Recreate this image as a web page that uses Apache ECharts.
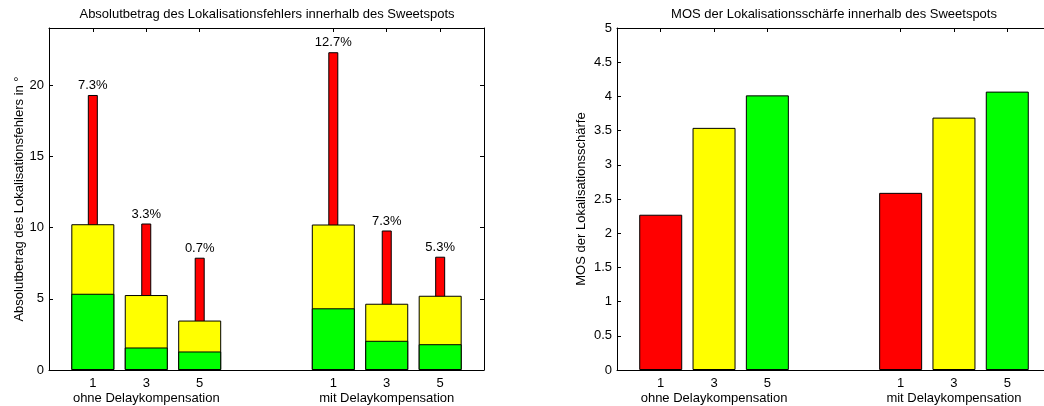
<!DOCTYPE html>
<html>
<head>
<meta charset="utf-8">
<script src="https://cdn.jsdelivr.net/npm/echarts@6/dist/echarts.min.js"></script>
<style>
  html, body { margin: 0; padding: 0; background: #fff; overflow: hidden; }
  /* right panel runs past the window edge, as in the original */
  #chart { width: 1060px; height: 406px; }
</style>
</head>
<body>
<div id="chart"></div>
<script>
// x positions of the bars (two groups of three)
const positions = [1, 2, 3, 5.5, 6.5, 7.5];
const tickLabels = ['1', '3', '5', '1', '3', '5'];
const groupPos = [2, 6.5];
const groupNames = ['ohne Delaykompensation', 'mit Delaykompensation'];

// left: Lokalisationsfehler (upper edge of each segment)
const greenTop = [5.35, 1.58, 1.30, 4.33, 2.05, 1.81];
const yellowTop = [10.23, 5.26, 3.47, 10.21, 4.65, 5.21];
const redTop = [19.3, 10.28, 7.88, 22.3, 9.79, 7.95];
const redPct = ['7.3%', '3.3%', '0.7%', '12.7%', '7.3%', '5.3%'];

// right: MOS
const mosValues = [2.27, 3.54, 4.015, 2.59, 3.69, 4.07];
const mosColors = ['#ff0000', '#ffff00', '#00ff00', '#ff0000', '#ffff00', '#00ff00'];

const FONT = '"Liberation Sans", Arial, sans-serif';
const txt = { color: '#000', fontFamily: FONT, fontSize: 13 };

const chart = echarts.init(document.getElementById('chart'));

function xAxes(grid) {
  const base = {
    type: 'value', gridIndex: grid, min: 0.18, max: 8.32,
    splitLine: { show: false },
    axisLine: { show: true, onZero: false, lineStyle: { color: '#000', width: 1 } }
  };
  return [
    Object.assign({}, base, {
      position: 'bottom',
      axisTick: { show: true, inside: true, length: 4, customValues: positions, lineStyle: { color: '#000' } },
      axisLabel: Object.assign({ customValues: positions, margin: 7,
        formatter: v => tickLabels[positions.indexOf(v)] }, txt)
    }),
    Object.assign({}, base, {
      position: 'top',
      axisTick: { show: true, inside: true, length: 4, customValues: positions, lineStyle: { color: '#000' } },
      axisLabel: { show: false }
    }),
    Object.assign({}, base, {
      position: 'bottom', offset: 15,
      axisLine: { show: false, onZero: false },
      axisTick: { show: false },
      axisLabel: Object.assign({ customValues: groupPos, margin: 7,
        formatter: v => groupNames[groupPos.indexOf(v)] }, txt)
    })
  ];
}

function yAxes(grid, max, ticks, name, gap) {
  const base = {
    type: 'value', gridIndex: grid, min: 0, max: max,
    splitLine: { show: false },
    axisLine: { show: true, onZero: false, lineStyle: { color: '#000', width: 1 } },
    axisTick: { show: true, inside: true, length: 4, customValues: ticks, lineStyle: { color: '#000' } }
  };
  return [
    Object.assign({}, base, {
      position: 'left',
      name: name, nameLocation: 'middle', nameGap: gap,
      nameTextStyle: txt,
      axisLabel: Object.assign({ customValues: ticks, margin: 5 }, txt)
    }),
    Object.assign({}, base, {
      position: 'right',
      axisLabel: { show: false }
    })
  ];
}

const barStyle = c => ({ color: c, borderColor: '#000', borderWidth: 1 });

chart.setOption({
  animation: false,
  backgroundColor: '#fff',
  grid: [
    { left: 49, top: 28, width: 435, height: 342 },
    { left: 617, top: 28, width: 434, height: 342 }
  ],
  graphic: [
    { type: 'text', x: 267, y: 14, style: { text: 'Absolutbetrag des Lokalisationsfehlers innerhalb des Sweetspots',
      textAlign: 'center', textVerticalAlign: 'middle', fill: '#000', font: '13px ' + FONT } },
    { type: 'text', x: 834, y: 14, style: { text: 'MOS der Lokalisationsschärfe innerhalb des Sweetspots',
      textAlign: 'center', textVerticalAlign: 'middle', fill: '#000', font: '13px ' + FONT } }
  ],
  xAxis: xAxes(0).concat(xAxes(1)),
  yAxis: yAxes(0, 24, [0, 5, 10, 15, 20], 'Absolutbetrag des Lokalisationsfehlers in °', 23.5)
    .concat(yAxes(1, 5, [0, 0.5, 1, 1.5, 2, 2.5, 3, 3.5, 4, 4.5, 5], 'MOS der Lokalisationsschärfe', 29.5)),
  series: [
    {
      type: 'bar', xAxisIndex: 2, yAxisIndex: 0, barWidth: 10,
      itemStyle: barStyle('#ff0000'),
      label: Object.assign({ show: true, position: 'top', distance: 3,
        formatter: p => redPct[p.dataIndex] }, txt),
      data: positions.map((x, i) => [x, redTop[i]])
    },
    {
      type: 'bar', xAxisIndex: 1, yAxisIndex: 0, barWidth: 43,
      itemStyle: barStyle('#ffff00'),
      data: positions.map((x, i) => [x, yellowTop[i]])
    },
    {
      type: 'bar', xAxisIndex: 0, yAxisIndex: 0, barWidth: 43,
      itemStyle: barStyle('#00ff00'),
      data: positions.map((x, i) => [x, greenTop[i]])
    },
    {
      type: 'bar', xAxisIndex: 3, yAxisIndex: 2, barWidth: 43,
      data: positions.map((x, i) => ({ value: [x, mosValues[i]], itemStyle: barStyle(mosColors[i]) }))
    }
  ]
});
</script>
</body>
</html>
